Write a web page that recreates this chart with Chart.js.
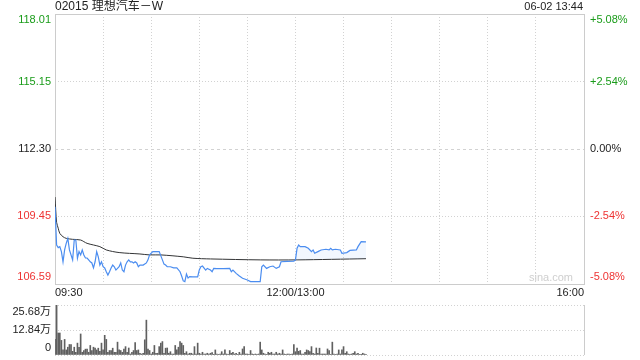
<!DOCTYPE html>
<html>
<head>
<meta charset="utf-8">
<script src="https://cdn.jsdelivr.net/npm/chart.js@4"></script>
<style>
  html, body { margin: 0; padding: 0; background: #fff; }
  #wrap { position: relative; width: 640px; height: 360px; overflow: hidden; }
  #priceChart { position: absolute; left: 0; top: 0; }
  #volChart { position: absolute; left: 0; top: 295px; }
</style>
</head>
<body>
<div id="wrap">
  <canvas id="priceChart" width="640" height="300"></canvas>
  <canvas id="volChart" width="640" height="65"></canvas>
</div>
<script>
/// data ///
const title = "02015 理想汽车－W";
const stamp = "06-02 13:44";
const prevClose = 112.30;
const priceTicks = [106.59, 109.45, 112.30, 115.15, 118.01];
const pctTicks = ["-5.08%", "-2.54%", "0.00%", "+2.54%", "+5.08%"];
const timeTickMins = [0, 150, 330];
const timeTickText = ["09:30", "12:00/13:00", "16:00"];
const volTicks = [0, 12.84, 25.68];
const volTickText = ["0", "12.84万", "25.68万"];

// minutes since 09:30 (lunch break removed) and price
const priceMins = [0,1,2,3,4,5,6,7,8,9,11,12,13,14,15,16,17,18,19,20,21,22,23,24,25,26,27,28,29,30,
  31,32,33,34,35,36,37,38,40,41,42,43,44,45,46,47,48,49,50,51,52,53,55,57,58,59,61,63,65,67,
  68,69,70,72,74,76,78,79,80,81,82,83,84,86,88,89,90,91,92,94,95,97,98,99,101,105,109,110,111,113,
  115,117,120,122,125,128,129,130,132,134,136,138,140,141,145,149,150,
  151,152,153,156,158,160,161,162,164,166,169,171,172,173,175,178,179,182,184,188,189,191,194];
const prices = [109.86,108.24,108.13,108.17,107.96,107.53,108.03,108.31,108.52,108.03,107.61,108.45,108.45,107.68,107.96,107.82,108.03,107.82,107.69,107.69,107.61,107.53,107.48,107.27,107.53,107.96,107.74,107.39,107.53,107.32,
  107.27,107.11,106.97,107.11,107.27,107.39,107.32,107.18,107.32,107.48,107.18,107.11,107.39,107.53,107.61,107.53,107.53,107.48,107.53,107.48,107.32,107.39,107.39,107.48,107.61,107.82,107.96,107.96,107.96,107.61,
  107.43,107.39,107.32,107.32,107.27,107.27,107.11,106.93,106.72,106.69,107.01,106.84,106.90,106.89,106.89,106.89,107.18,107.32,107.35,107.18,107.25,107.18,107.11,107.25,107.24,107.24,107.25,107.11,107.18,107.04,
  106.93,106.83,106.76,106.69,106.69,106.69,107.32,107.39,107.25,107.32,107.35,107.25,107.32,107.53,107.55,107.56,107.61,
  108.10,108.24,108.17,108.17,108.10,107.96,108.03,107.89,107.96,108.03,108.06,108.03,108.10,108.03,108.06,108.03,107.89,107.92,108.01,108.03,108.17,108.38,108.37];

const avgMins = [0,1,2,3,5,7,11,16,20,28,32,40,53,59,66,80,86,97,128,151,194];
const avgPrices = [110.27,109.20,108.95,108.73,108.59,108.52,108.48,108.45,108.31,108.17,108.03,107.92,107.86,107.82,107.82,107.74,107.68,107.65,107.61,107.61,107.66];

// volume per minute, in 万
const volumes = [8.0,25.68,11.3,11.3,7.5,2.6,8.0,2.6,4.0,5.4,5.4,1.9,4.0,1.4,6.1,4.0,10.8,1.4,2.3,3.0,
  3.0,1.4,4.9,2.3,4.0,3.6,2.6,3.5,1.9,6.1,2.6,10.1,8.0,1.4,2.3,2.3,3.5,1.4,1.4,6.6,
  2.6,2.3,1.4,3.1,4.3,1.4,3.6,0.5,1.4,2.3,6.4,2.3,2.6,0.9,0.5,0.9,7.8,17.9,3.1,2.3,
  0.5,1.4,4.9,0.9,0.9,4.3,6.1,6.9,0.9,3.5,3.6,0.9,1.7,0.5,0.5,4.9,2.6,4.0,6.9,6.1,
  4.9,0.9,1.7,0.5,0.9,0.9,0.5,4.3,0.5,6.1,0.9,0.5,1.4,0.5,
  0.5,0.9,0.5,0.9,1.2,0.1,2.6,0.5,0.2,0.5,1.7,0.5,2.6,0.5,0.2,2.3,0.9,1.4,0.5,0.9,
  0.2,1.4,0.5,3.1,4.3,0.5,0.5,0.2,2.3,0.5,0.2,0.5,0.2,0.5,6.6,2.6,0.9,0.5,0.2,1.4,
  0.9,1.4,0.5,0.5,1.4,0.5,0.9,0.5,2.6,0.5,0.2,0.5,0.5,0.2,0.5,5.4,1.7,3.5,1.9,2.3,
  0.5,0.5,1.4,2.6,2.3,1.7,4.3,0.9,0.5,3.6,0.9,3.5,0.5,0.5,0.5,0.5,3.1,2.3,0.2,6.6,
  0.5,0.2,0.5,2.6,0.5,2.6,4.3,0.9,1.7,0.5,0.2,0.5,0.9,1.7,0.5,0.9,0.2,0.1,0.9,0.5,0.3];

const fontFam = '"Liberation Sans", Arial, "Noto Sans CJK SC", sans-serif';
const green = "#1a9c1a";
const red = "#ee3333";
const gridCol = "#d2d2d2";
const frameCol = "#cccccc";

function colorFor(v) {
  if (Math.abs(v - prevClose) < 0.005) return "#222";
  return v > prevClose ? green : red;
}

/// price chart ///
const priceLabels = {
  id: "priceLabels",
  beforeDatasetsDraw(chart) {
    const { ctx, chartArea: a } = chart;
    ctx.save();
    ctx.strokeStyle = frameCol;
    ctx.lineWidth = 1;
    ctx.strokeRect(a.left + 0.5, a.top + 0.5, a.right - a.left, a.bottom - a.top);
    // watermark
    ctx.fillStyle = "#cfcfcf";
    ctx.font = "11px " + fontFam;
    ctx.textAlign = "right";
    ctx.textBaseline = "middle";
    ctx.fillText("sina.com", a.right - 11, a.bottom - 6);
    ctx.restore();
  },
  afterDraw(chart) {
    const { ctx, chartArea: a, scales: { x, y } } = chart;
    ctx.save();
    ctx.font = "11px " + fontFam;
    ctx.textBaseline = "middle";
    priceTicks.forEach((v, i) => {
      let py = y.getPixelForValue(v);
      if (i === 0) py -= 7;
      if (i === priceTicks.length - 1) py += 6;
      ctx.fillStyle = colorFor(v);
      ctx.textAlign = "right";
      ctx.fillText(v.toFixed(2), a.left - 4, py);
      ctx.textAlign = "left";
      ctx.fillText(pctTicks[i], a.right + 6, py);
    });
    ctx.fillStyle = "#222";
    timeTickMins.forEach((m, i) => {
      const px = x.getPixelForValue(m);
      ctx.textAlign = i === 0 ? "left" : (i === timeTickMins.length - 1 ? "right" : "center");
      ctx.fillText(timeTickText[i], px, a.bottom + 9);
    });
    ctx.font = "12px " + fontFam;
    ctx.textAlign = "left";
    ctx.fillText(title, a.left, 7);
    ctx.font = "11px " + fontFam;
    ctx.textAlign = "right";
    ctx.fillText(stamp, a.right - 1, 7);
    ctx.restore();
  }
};

const ctx1 = document.getElementById("priceChart").getContext("2d");
new Chart(ctx1, {
  type: "line",
  data: {
    datasets: [{
      label: "price",
      data: priceMins.map((m, i) => ({ x: m, y: prices[i] })),
      borderColor: "#4b8df0",
      borderWidth: 1.2,
      pointRadius: 0,
      tension: 0,
      fill: { target: 1, above: "rgba(75,141,240,0.07)", below: "rgba(0,0,0,0)" }
    }, {
      label: "avg",
      data: avgMins.map((m, i) => ({ x: m, y: avgPrices[i] })),
      borderColor: "#333",
      borderWidth: 1,
      pointRadius: 0,
      tension: 0.3,
      fill: false
    }]
  },
  options: {
    responsive: false,
    animation: false,
    maintainAspectRatio: false,
    devicePixelRatio: 1,
    layout: { padding: { left: 55, right: 56, top: 14, bottom: 16 } },
    plugins: { legend: { display: false }, tooltip: { enabled: false } },
    scales: {
      x: {
        type: "linear", min: 0, max: 330,
        ticks: { display: false, stepSize: 30 },
        grid: { color: gridCol, drawTicks: false },
        border: { display: false, dash: [1, 2] }
      },
      y: {
        min: priceTicks[0], max: priceTicks[priceTicks.length - 1],
        afterBuildTicks: s => { s.ticks = priceTicks.map(v => ({ value: v })); },
        ticks: { display: false },
        grid: { color: gridCol, drawTicks: false },
        border: { display: false, dash: c => (c.tick && Math.abs(c.tick.value - prevClose) < 0.005) ? [3, 3] : [1, 2] }
      }
    }
  },
  plugins: [priceLabels]
});

/// volume chart ///
const volLabels = {
  id: "volLabels",
  beforeDatasetsDraw(chart) {
    const { ctx, chartArea: a } = chart;
    ctx.save();
    ctx.strokeStyle = frameCol;
    ctx.lineWidth = 1;
    ctx.beginPath();
    ctx.moveTo(a.left + 0.5, a.top);
    ctx.lineTo(a.left + 0.5, a.bottom);
    ctx.moveTo(a.right + 0.5, a.top);
    ctx.lineTo(a.right + 0.5, a.bottom);
    ctx.stroke();
    ctx.restore();
  },
  afterDraw(chart) {
    const { ctx, chartArea: a, scales: { y } } = chart;
    ctx.save();
    ctx.font = "11px " + fontFam;
    ctx.textBaseline = "middle";
    ctx.textAlign = "right";
    ctx.fillStyle = "#222";
    volTicks.forEach((v, i) => {
      let py = y.getPixelForValue(v);
      if (i === 0) py -= 7;
      if (i === volTicks.length - 1) py += 7;
      ctx.fillText(volTickText[i], a.left - 4, py);
    });
    ctx.restore();
  }
};

const ctx2 = document.getElementById("volChart").getContext("2d");
new Chart(ctx2, {
  type: "bar",
  data: {
    datasets: [{
      data: volumes.map((v, i) => ({ x: i, y: v })),
      backgroundColor: "#606060",
      barThickness: 1
    }]
  },
  options: {
    responsive: false,
    animation: false,
    maintainAspectRatio: false,
    devicePixelRatio: 1,
    layout: { padding: { left: 55, right: 56, top: 10, bottom: 5 } },
    plugins: { legend: { display: false }, tooltip: { enabled: false } },
    scales: {
      x: {
        type: "linear", min: 0, max: 330, offset: false,
        ticks: { display: false },
        grid: { display: false, drawTicks: false },
        border: { display: false }
      },
      y: {
        min: 0, max: volTicks[volTicks.length - 1],
        afterBuildTicks: s => { s.ticks = volTicks.map(v => ({ value: v })); },
        ticks: { display: false },
        grid: { color: gridCol, drawTicks: false },
        border: { display: false, dash: [1, 2] }
      }
    }
  },
  plugins: [volLabels]
});
</script>
</body>
</html>
